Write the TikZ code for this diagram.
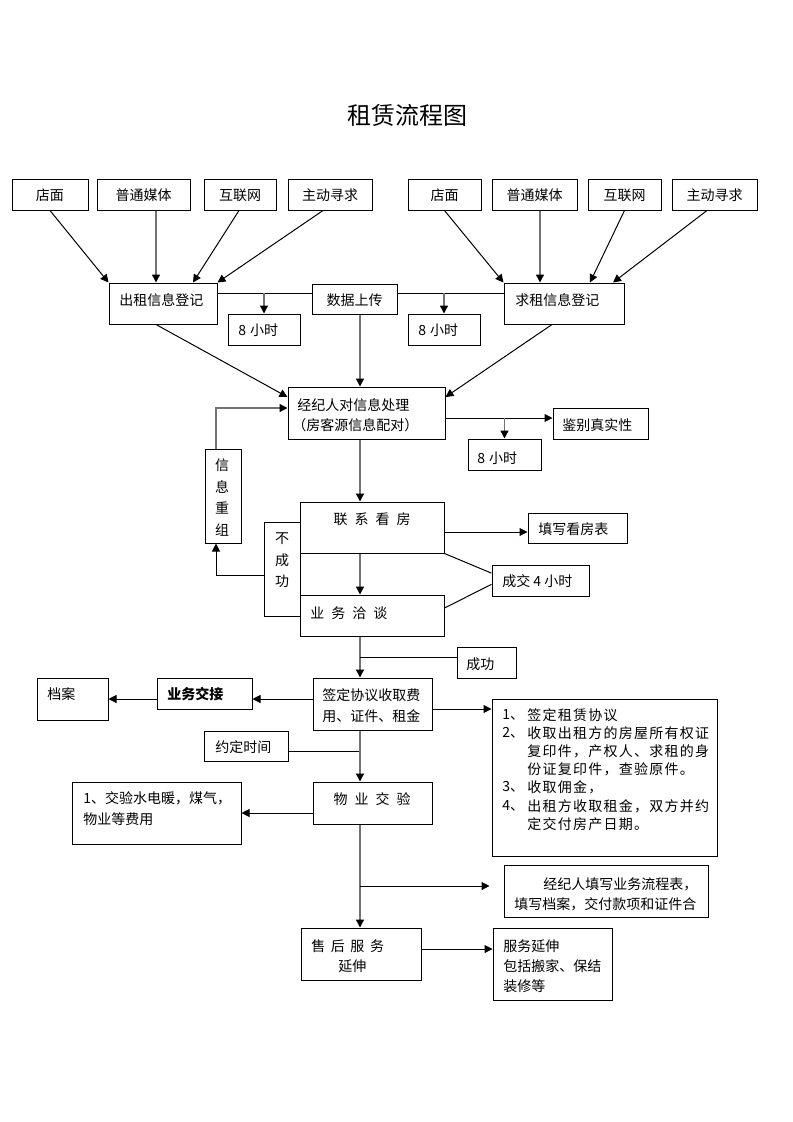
\documentclass[tikz,border=0pt]{standalone}
\usepackage{fontspec}
\setmainfont{Noto Sans CJK SC}
\usetikzlibrary{arrows.meta,fit,calc}
\newcommand\mybox[5]{\node[box,fit={(#2,#3)(#4,#5)}] (#1) {};}
\begin{document}
\begin{tikzpicture}[x=0.75pt,y=-0.75pt,
  box/.style={draw,line width=0.75pt,inner sep=0pt},
  txt/.style={font=\fontsize{10.5}{13}\selectfont,inner sep=0pt},
  tw/.style={txt,anchor=west},
  ln/.style={draw=black,line width=0.75pt},
  gl/.style={draw=black!55,line width=1pt},
  arr/.style={-{Triangle[length=6pt,width=6pt,color=black]}},
  ls/.style={tw,font=\fontsize{10.5}{13}\selectfont\addfontfeature{LetterSpace=9}}
]
\useasboundingbox (0,0) rectangle (793,1122);
\fill[white] (0,0) rectangle (793,1122);

\node[font=\fontsize{18}{20}\selectfont,inner sep=0pt] (title) at (407,115) {租赁流程图};

% top sources
\mybox{s1}{12}{179}{88}{210}   \node[txt] (s1t) at (50,195) {店面};
\mybox{s2}{97}{179}{190}{210}  \node[txt] (s2t) at (143.5,195) {普通媒体};
\mybox{s3}{204}{179}{276}{210} \node[txt] (s3t) at (240,195) {互联网};
\mybox{s4}{288}{179}{372}{210} \node[txt] (s4t) at (330,195) {主动寻求};
\mybox{t1}{408}{179}{481}{210} \node[txt] (t1t) at (444.5,195) {店面};
\mybox{t2}{492}{179}{577}{210} \node[txt] (t2t) at (534.5,195) {普通媒体};
\mybox{t3}{588}{179}{661}{210} \node[txt] (t3t) at (624.5,195) {互联网};
\mybox{t4}{672}{179}{757}{210} \node[txt] (t4t) at (714.5,195) {主动寻求};

\mybox{cz}{109}{283}{217}{324} \node[tw] (czt) at (119,300) {出租信息登记};
\mybox{sc}{312}{284}{397}{314} \node[txt] (sct) at (354.5,300) {数据上传};
\mybox{ha}{228}{314}{300}{345} \node[tw] (hat) at (238,330) {8\hspace{0.3em}小时};
\mybox{hb}{408}{314}{480}{345} \node[tw] (hbt) at (418,330) {8\hspace{0.3em}小时};
\mybox{qz}{504}{283}{624}{324} \node[tw] (qzt) at (515,300) {求租信息登记};

\mybox{jj}{288}{387}{445}{439}
\node[tw] (jj1) at (297,405) {经纪人对信息处理};
\node[tw] (jj2) at (292,425) {（房客源信息配对）};
\mybox{jb}{553}{408}{648}{439} \node[tw] (jbt) at (562,425) {鉴别真实性};
\mybox{hc}{468}{439}{541}{470} \node[tw] (hct) at (477,458) {8\hspace{0.3em}小时};

\mybox{cx}{205}{449}{241}{543}
\node[txt] (cx1) at (222,465) {信};
\node[txt] (cx2) at (222,487) {息};
\node[txt] (cx3) at (222,508) {重};
\node[txt] (cx4) at (222,530) {组};

\mybox{lx}{300}{502}{444}{553} \node[txt] (lxt) at (372,519) {联\hspace{0.5em}系\hspace{0.5em}看\hspace{0.5em}房};
\mybox{ywq}{300}{595}{444}{636} \node[tw] (ywqt) at (310,613) {业\hspace{0.5em}务\hspace{0.5em}洽\hspace{0.5em}谈};
\mybox{bcg}{264}{522}{300}{616}
\node[txt] (bc1) at (282,539) {不};
\node[txt] (bc2) at (282,560) {成};
\node[txt] (bc3) at (282,581) {功};
\mybox{tx}{528}{513}{627}{543} \node[tw] (txt1) at (538,529) {填写看房表};
\mybox{cj}{492}{565}{589}{596} \node[tw] (cjt) at (502,581) {成交 4 小时};
\mybox{cg}{457}{647}{516}{678} \node[tw] (cgt) at (466,664) {成功};

\mybox{qd}{313}{678}{432}{730}
\node[tw] (qd1) at (322,695) {签定协议收取费};
\node[tw] (qd2) at (322,716) {用、证件、租金};
\mybox{ywj}{157}{678}{252}{709} \node[tw,font=\fontsize{10.5}{13}\selectfont\bfseries] (ywjt) at (167,694) {业务交接};
\mybox{da}{37}{678}{108}{720} \node[tw] (dat) at (47,694) {档案};

\mybox{lst}{492}{699}{717}{856}
\node[tw] (n1) at (502,715) {1、};
\node[ls] (l1) at (527,715) {签定租赁协议};
\node[tw] (n2) at (502,733) {2、};
\node[ls] (l2) at (527,733) {收取出租方的房屋所有权证};
\node[ls] (l3) at (527,751) {复印件，产权人、求租的身};
\node[ls] (l4) at (527,769) {份证复印件，查验原件。};
\node[tw] (n3) at (502,787) {3、};
\node[ls] (l5) at (527,787) {收取佣金，};
\node[tw] (n4) at (502,806) {4、};
\node[ls] (l6) at (527,806) {出租方收取租金，双方并约};
\node[ls] (l7) at (527,824) {定交付房产日期。};

\mybox{yd}{204}{731}{288}{761} \node[tw] (ydt) at (215,747) {约定时间};
\mybox{wy}{313}{782}{432}{824} \node[txt] (wyt) at (372,799) {物\hspace{0.5em}业\hspace{0.5em}交\hspace{0.5em}验};
\mybox{sd}{72}{782}{241}{844}
\node[tw] (sd1) at (83,798) {1、交验水电暖，煤气，};
\node[tw] (sd2) at (83,819) {物业等费用};

\mybox{jt}{504}{865}{708}{917}
\node[tw] (jt1) at (543,884) {经纪人填写业务流程表，};
\node[tw] (jt2) at (514,904) {填写档案，交付款项和证件合};
\mybox{sh}{301}{928}{421}{980}
\node[tw] (sh1) at (311,946) {售\hspace{0.4em}后\hspace{0.4em}服\hspace{0.4em}务};
\node[tw] (sh2) at (338,966) {延伸};
\mybox{fw}{493}{928}{612}{1000}
\node[tw] (fw1) at (503,946) {服务延伸};
\node[tw] (fw2) at (503,966) {包括搬家、保结};
\node[tw] (fw3) at (503,986) {装修等};

% helper coordinates
\coordinate (X156) at (156,0);
\coordinate (X193) at (193,0);
\coordinate (X216) at (216,0);
\coordinate (X239) at (239,0);
\coordinate (X323) at (323,0);
\coordinate (X360) at (360,0);
\coordinate (X540) at (540,0);
\coordinate (X552) at (552,0);
\coordinate (X590) at (590,0);
\coordinate (X613) at (613,0);
\coordinate (X707) at (707,0);
\coordinate (Y293) at (0,293);
\coordinate (Y397) at (0,397);
\coordinate (Y408) at (0,408);
\coordinate (Y418) at (0,418);
\coordinate (Y532) at (0,532);
\coordinate (Y575) at (0,575);
\coordinate (Y608) at (0,608);
\coordinate (Y657) at (0,657);
\coordinate (Y699) at (0,699);
\coordinate (Y709) at (0,709);
\coordinate (Y751) at (0,751);
\coordinate (Y813) at (0,813);
\coordinate (Y886) at (0,886);
\coordinate (Y949) at (0,949);

% connectors top
\draw[ln,arr] (s1.south) -- (cz.north west);
\draw[gl,arr] (X156 |- s2.south) -- (X156 |- cz.north);
\draw[ln,arr] (X239 |- s3.south) -- (X193 |- cz.north);
\draw[ln,arr] (X323 |- s4.south) -- (cz.north east);
\draw[ln,arr] (t1.south) -- (qz.north west);
\draw[gl,arr] (X540 |- t2.south) -- (X540 |- qz.north);
\draw[ln,arr] (t3.south) -- (X590 |- qz.north);
\draw[ln,arr] (X707 |- t4.south) -- (X613 |- qz.north);

\draw[ln] (Y293 -| cz.east) -- (Y293 -| sc.west);
\draw[ln] (Y293 -| sc.east) -- (Y293 -| qz.west);
\draw[gl,arr] (Y293 -| ha.north) -- (ha.north);
\draw[gl,arr] (Y293 -| hb.north) -- (hb.north);

\draw[gl,arr] (X360 |- sc.south) -- (X360 |- jj.north);
\draw[ln,arr] (X156 |- cz.south) -- (Y397 -| jj.west);
\draw[ln,arr] (X552 |- qz.south) -- (Y397 -| jj.east);

\draw[gl,arr] (X216 |- cx.north) |- (Y408 -| jj.west);
\draw[ln,arr] (Y418 -| jj.east) -- (Y418 -| jb.west);
\draw[gl,arr] (Y418 -| hc.north) -- (hc.north);
\draw[gl,arr] (X360 |- jj.south) -- (X360 |- lx.north);
\draw[gl,arr] (X360 |- lx.south) -- (X360 |- ywq.north);
\draw[ln,arr] (Y575 -| bcg.west) -| (X216 |- cx.south);
\draw[ln,arr] (Y532 -| lx.east) -- (Y532 -| tx.west);
\draw[ln] (lx.south east) -- ($(cj.north west)!0.27!(cj.south west)$);
\draw[ln] (Y608 -| ywq.east) -- ($(cj.north west)!0.62!(cj.south west)$);
\draw[gl,arr] (X360 |- ywq.south) -- (X360 |- qd.north);
\draw[ln] (Y657 -| X360) -- (Y657 -| cg.west);

\draw[ln,arr] (Y699 -| qd.west) -- (Y699 -| ywj.east);
\draw[ln,arr] (Y699 -| ywj.west) -- (Y699 -| da.east);
\draw[ln,arr] (Y709 -| qd.east) -- (Y709 -| lst.west);
\draw[ln] (Y751 -| yd.east) -- (Y751 -| X360);
\draw[gl,arr] (X360 |- qd.south) -- (X360 |- wy.north);
\draw[ln,arr] (Y813 -| wy.west) -- (Y813 -| sd.east);
\draw[gl,arr] (X360 |- wy.south) -- (X360 |- sh.north);
\draw[ln,arr,shorten >=10.5pt] (Y886 -| X360) -- (Y886 -| jt.west);
\draw[ln,arr] (Y949 -| sh.east) -- (Y949 -| fw.west);
\end{tikzpicture}
\end{document}
